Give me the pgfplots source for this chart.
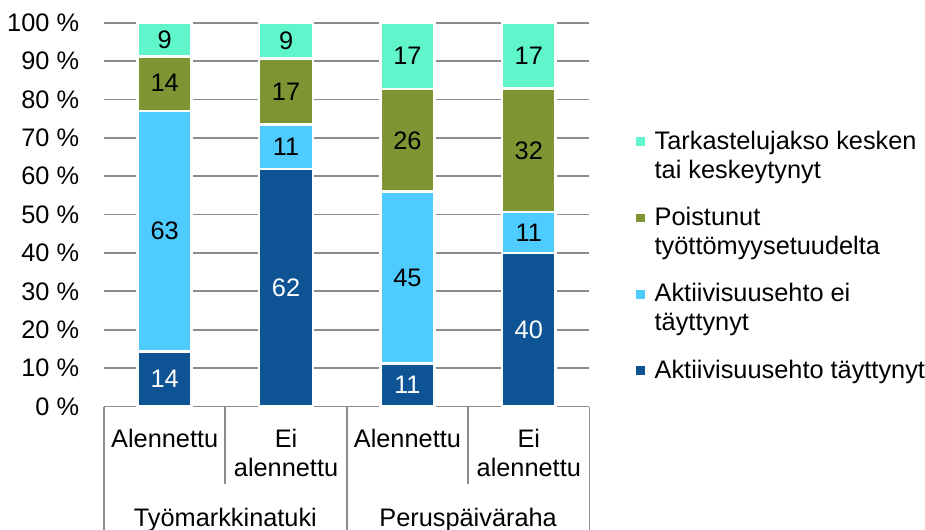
\documentclass[border=0pt]{standalone}
\usepackage{fontspec}
\setmainfont{Liberation Sans}
\usepackage{pgfplots}
\pgfplotsset{compat=1.18}
\definecolor{cDark}{HTML}{0E5393}
\definecolor{cLight}{HTML}{4FCCFF}
\definecolor{cOlive}{HTML}{7F9433}
\definecolor{cMint}{HTML}{60F5CA}
\definecolor{cGrid}{HTML}{8C8C8C}
\newcommand{\legtxt}[2]{\vtop{\hbox{#1}\hbox{#2}}}
\begin{document}
\begin{tikzpicture}
\pgfplotsset{
  common/.style={
    width=364.1pt, height=287.9pt, scale only axis,
    xmin=-0.5, xmax=3.5, ymin=0, ymax=100,
    font=\fontsize{19}{21.75}\selectfont,
  }
}
\begin{axis}[common,
  ybar stacked, bar width=0.444,
  axis x line*=bottom, axis y line*=left,
  x axis line style={draw=cGrid, line width=1.3pt, -},
  y axis line style={draw=none},
  xtick={0,1,2,3},
  xticklabels={Alennettu,{Ei\\alennettu},Alennettu,{Ei\\alennettu}},
  xticklabel style={align=center, anchor=north, inner sep=0pt, yshift=-17pt},
  ytick={0,10,...,100},
  yticklabels={0 \%,10 \%,20 \%,30 \%,40 \%,50 \%,60 \%,70 \%,80 \%,90 \%,100 \%},
  yticklabel style={anchor=east, inner sep=0pt, xshift=-18.5pt},
  major tick length=0pt,
  ymajorgrids, grid style={draw=cGrid, line width=1.3pt},
  clip=false,
  legend style={draw=none, fill=none, at={(1.0897,0.7187)}, anchor=north west,
    inner sep=0pt, outer sep=0pt, row sep=3.2pt, column sep=5.25pt,
    cells={anchor=base west}, nodes={inner sep=0pt, text height=14pt, text depth=40pt}},
  legend image code/.code={\fill[#1] (0pt,1.5pt) rectangle (9pt,10pt);},
  reverse legend,
]
\addplot[fill=cDark, draw=white, line width=2pt] coordinates {(0,14.4) (1,61.9) (2,11.2) (3,40.0)};
\addlegendentry{\legtxt{Aktiivisuusehto täyttynyt}{}}
\addplot[fill=cLight, draw=white, line width=2pt] coordinates {(0,62.6) (1,11.5) (2,44.8) (3,10.7)};
\addlegendentry{\legtxt{Aktiivisuusehto ei}{täyttynyt}}
\addplot[fill=cOlive, draw=white, line width=2pt] coordinates {(0,14.1) (1,17.2) (2,26.7) (3,32.1)};
\addlegendentry{\legtxt{Poistunut}{työttömyysetuudelta}}
\addplot[fill=cMint, draw=white, line width=2pt] coordinates {(0,8.9) (1,9.4) (2,17.3) (3,17.2)};
\addlegendentry{\legtxt{Tarkastelujakso kesken}{tai keskeytynyt}}
\draw[cGrid, line width=1.3pt] (axis cs:-0.5,0) -- ++(0pt,-95pt);
\draw[cGrid, line width=1.3pt] (axis cs:1.5,0) -- ++(0pt,-95pt);
\draw[cGrid, line width=1.3pt] (axis cs:3.5,0) -- ++(0pt,-95pt);
\draw[cGrid, line width=1.3pt] (axis cs:0.5,0) -- ++(0pt,-58.1pt);
\draw[cGrid, line width=1.3pt] (axis cs:2.5,0) -- ++(0pt,-58.1pt);
\node[anchor=base, inner sep=0pt] at ([yshift=-90.15pt]axis cs:0.5,0) {Työmarkkinatuki};
\node[anchor=base, inner sep=0pt] at ([yshift=-90.15pt]axis cs:2.5,0) {Peruspäiväraha};
\end{axis}
\begin{axis}[common, axis lines=none,
  nodes near coords, point meta=explicit symbolic,
  every node near coord/.append style={anchor=center, inner sep=0pt}]
\addplot[draw=none, mark=none, every node near coord/.append style={text=white}] coordinates {(0,7.2)[14] (1,30.95)[62] (2,5.6)[11] (3,20)[40]};
\addplot[draw=none, mark=none, every node near coord/.append style={text=black}] coordinates {(0,45.7)[63] (1,67.65)[11] (2,33.6)[45] (3,45.35)[11] (0,84.25)[14] (1,82.0)[17] (2,69.35)[26] (3,66.75)[32] (0,95.55)[9] (1,95.3)[9] (2,91.35)[17] (3,91.4)[17]};
\end{axis}
\pgfresetboundingbox
\path (-78pt,-92.6pt) rectangle (615.75pt,304.9pt);
\end{tikzpicture}
\end{document}
